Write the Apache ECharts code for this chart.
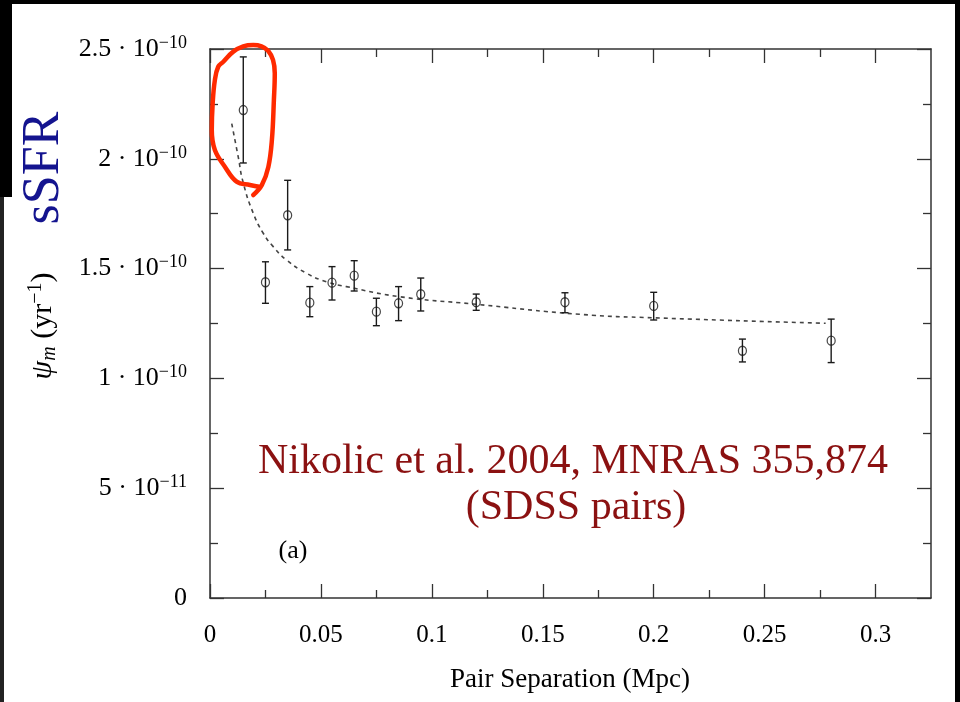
<!DOCTYPE html>
<html><head><meta charset="utf-8">
<script src="https://cdn.jsdelivr.net/npm/echarts@6/dist/echarts.min.js"></script>
<style>html,body{margin:0;padding:0;background:#fff}#c{width:960px;height:702px}</style>
</head><body><div id="c"></div>
<script>
// Pair separation (Mpc) of each bin
const sepX = [0.015, 0.025, 0.035, 0.045, 0.055, 0.065, 0.075, 0.085, 0.095, 0.12, 0.16, 0.20, 0.24, 0.28];
// Mean specific star formation rate psi_m (yr^-1)
const ssfr = [2.222e-10, 1.438e-10, 1.743e-10, 1.345e-10, 1.436e-10, 1.468e-10, 1.304e-10, 1.342e-10, 1.383e-10, 1.347e-10, 1.347e-10, 1.330e-10, 1.126e-10, 1.172e-10];
const errHigh = [2.464e-10, 1.531e-10, 1.902e-10, 1.418e-10, 1.509e-10, 1.536e-10, 1.365e-10, 1.418e-10, 1.457e-10, 1.384e-10, 1.390e-10, 1.392e-10, 1.179e-10, 1.270e-10];
const errLow  = [1.981e-10, 1.342e-10, 1.585e-10, 1.281e-10, 1.357e-10, 1.398e-10, 1.240e-10, 1.263e-10, 1.307e-10, 1.310e-10, 1.299e-10, 1.266e-10, 1.075e-10, 1.072e-10];
// Dashed fit curve
const fitX = [0.0098, 0.0127, 0.0150, 0.0195, 0.0240, 0.0285, 0.0345, 0.0435, 0.0525, 0.0615, 0.0855, 0.1185, 0.1665, 0.2000, 0.2775];
const fitY = [2.160e-10, 2.010e-10, 1.890e-10, 1.752e-10, 1.661e-10, 1.600e-10, 1.539e-10, 1.479e-10, 1.440e-10, 1.418e-10, 1.372e-10, 1.339e-10, 1.292e-10, 1.276e-10, 1.251e-10];
// Hand-drawn red loop around the first point (data coordinates)
const loopX = [0.0195, 0.0234, 0.0263, 0.0279, 0.0288, 0.0292, 0.0284, 0.0262, 0.0232, 0.0195, 0.0150, 0.0105, 0.0060, 0.0037, 0.0022, 0.0012, 0.0008, 0.0022, 0.0067, 0.0120, 0.0180, 0.0228];
const loopY = [1.835e-10, 1.881e-10, 1.963e-10, 2.086e-10, 2.268e-10, 2.390e-10, 2.450e-10, 2.492e-10, 2.512e-10, 2.518e-10, 2.512e-10, 2.488e-10, 2.442e-10, 2.419e-10, 2.359e-10, 2.253e-10, 2.131e-10, 2.040e-10, 1.964e-10, 1.896e-10, 1.881e-10, 1.872e-10];
// Axis ticks and labels
const xTickValues = [0, 0.05, 0.1, 0.15, 0.2, 0.25, 0.3];
const xTickLabels = ['0', '0.05', '0.1', '0.15', '0.2', '0.25', '0.3'];
const xMinorTicks = [0.025, 0.075, 0.125, 0.175, 0.225, 0.275];
const yTickValues = [0, 5e-11, 1e-10, 1.5e-10, 2e-10, 2.5e-10];
const yTickMantissa = ['0', '5', '1', '1.5', '2', '2.5'];
const yTickExponent = ['', '−11', '−10', '−10', '−10', '−10'];
const yMinorTicks = [2.5e-11, 7.5e-11, 1.25e-10, 1.75e-10, 2.25e-10];

const SERIF = '"Liberation Serif", "Times New Roman", serif';
const AX = '#333';
const TXT = '#000';

function findIdx(arr, v, tol) { return arr.findIndex(a => Math.abs(a - v) < tol); }

const chart = echarts.init(document.getElementById('c'));
function xAx(pos, minor, showLine) {
  return {
    type: 'value', position: pos, min: 0, max: 0.325,
    axisLine: { show: showLine, onZero: false, lineStyle: { color: AX, width: 1.5 } },
    axisTick: { show: true, inside: true, length: minor ? 8 : 14, customValues: minor ? xMinorTicks : xTickValues, lineStyle: { color: AX, width: 1.3 } },
    axisLabel: (pos === 'bottom' && !minor) ? {
      show: true, customValues: xTickValues, margin: 25, color: TXT, fontFamily: SERIF, fontSize: 25,
      formatter: v => { const i = findIdx(xTickValues, v, 1e-9); return i >= 0 ? xTickLabels[i] : ''; }
    } : { show: false },
    splitLine: { show: false }
  };
}
function yAx(pos, minor, showLine) {
  return {
    type: 'value', position: pos, min: 0, max: 2.5e-10,
    axisLine: { show: showLine, onZero: false, lineStyle: { color: AX, width: 1.5 } },
    axisTick: { show: true, inside: true, length: minor ? 8 : 14, customValues: minor ? yMinorTicks : yTickValues, lineStyle: { color: AX, width: 1.3 } },
    axisLabel: (pos === 'left' && !minor) ? {
      show: true, customValues: yTickValues, margin: 23, color: TXT, fontFamily: SERIF,
      formatter: v => {
        const i = findIdx(yTickValues, v, 1e-14);
        if (i < 0) return '';
        return yTickExponent[i] ? '{m|' + yTickMantissa[i] + ' · 10}{sup|' + yTickExponent[i] + '}' : '{m|' + yTickMantissa[i] + '}';
      },
      rich: {
        m: { fontSize: 26, fontFamily: SERIF, color: TXT, lineHeight: 30 },
        sup: { fontSize: 18, fontFamily: SERIF, color: TXT, lineHeight: 18, verticalAlign: 'top' }
      }
    } : { show: false },
    splitLine: { show: false }
  };
}

const option = {
  backgroundColor: '#fff',
  animation: false,
  grid: { left: 210, top: 49, right: 29, bottom: 104, containLabel: false },
  xAxis: [xAx('bottom', false, true), xAx('bottom', true, false), xAx('top', false, true), xAx('top', true, false)],
  yAxis: [yAx('left', false, true), yAx('left', true, false), yAx('right', false, true), yAx('right', true, false)],
  series: [
    {
      name: 'fit', type: 'line', smooth: true, symbol: 'none',
      data: fitX.map((x, i) => [x, fitY[i]]),
      lineStyle: { color: '#444', width: 1.6, type: [4, 4] }, z: 2
    },
    {
      name: 'errors', type: 'custom',
      data: sepX.map((x, i) => [x, errLow[i], errHigh[i]]),
      encode: { x: 0, y: [1, 2] },
      renderItem: (params, api) => {
        const x = api.value(0), lo = api.value(1), hi = api.value(2);
        const a = api.coord([x, hi]), b = api.coord([x, lo]);
        const c = 3.5, st = { stroke: '#1a1a1a', lineWidth: 1.4 };
        return { type: 'group', children: [
          { type: 'line', shape: { x1: a[0], y1: a[1], x2: b[0], y2: b[1] }, style: st },
          { type: 'line', shape: { x1: a[0] - c, y1: a[1], x2: a[0] + c, y2: a[1] }, style: st },
          { type: 'line', shape: { x1: b[0] - c, y1: b[1], x2: b[0] + c, y2: b[1] }, style: st }
        ] };
      }, z: 3
    },
    {
      name: 'sSFR', type: 'scatter', symbol: 'circle', symbolSize: [8, 9],
      data: sepX.map((x, i) => [x, ssfr[i]]),
      itemStyle: { color: 'rgba(0,0,0,0)', borderColor: '#1a1a1a', borderWidth: 1.3 }, z: 4
    },
    {
      name: 'highlight', type: 'line', smooth: 0.4, symbol: 'none', clip: false,
      data: loopX.map((x, i) => [x, loopY[i]]),
      lineStyle: { color: '#ff2a00', width: 4.5, cap: 'round', join: 'round' }, z: 5
    }
  ],
  graphic: [
    { type: 'rect', shape: { x: 0, y: 0, width: 960, height: 4 }, style: { fill: '#000' } },
    { type: 'rect', shape: { x: 0, y: 0, width: 12, height: 197 }, style: { fill: '#000' } },
    { type: 'rect', shape: { x: 0, y: 197, width: 4, height: 505 }, style: { fill: '#222' } },
    { type: 'rect', shape: { x: 955, y: 0, width: 5, height: 702 }, style: { fill: '#000' } },
    { type: 'text', x: 44, y: 168, rotation: Math.PI / 2,
      style: { text: 'sSFR', fill: '#14148f', font: '52px ' + SERIF, align: 'center', verticalAlign: 'middle' } },
    { type: 'text', x: 43, y: 326, rotation: Math.PI / 2,
      style: { text: '{it|ψ}{sub|m} (yr{sup|−1})', fill: TXT, align: 'center', verticalAlign: 'middle',
        font: '30px ' + SERIF,
        rich: {
          it: { fontSize: 30, fontFamily: SERIF, fontStyle: 'italic', lineHeight: 34, verticalAlign: 'middle' },
          sub: { fontSize: 20, fontFamily: SERIF, fontStyle: 'italic', lineHeight: 20, verticalAlign: 'bottom' },
          sup: { fontSize: 20, fontFamily: SERIF, lineHeight: 20, verticalAlign: 'top' }
        } } },
    { type: 'text', x: 570, y: 680,
      style: { text: 'Pair Separation (Mpc)', fill: TXT, font: '27px ' + SERIF, align: 'center', verticalAlign: 'middle' } },
    { type: 'text', x: 573, y: 462,
      style: { text: 'Nikolic et al. 2004, MNRAS 355,874', fill: '#8b1111', font: '42px ' + SERIF, align: 'center', verticalAlign: 'middle' } },
    { type: 'text', x: 576, y: 508,
      style: { text: '(SDSS pairs)', fill: '#8b1111', font: '42px ' + SERIF, align: 'center', verticalAlign: 'middle' } },
    { type: 'text', x: 293, y: 551,
      style: { text: '(a)', fill: TXT, font: '26px ' + SERIF, align: 'center', verticalAlign: 'middle' } }
  ]
};
chart.setOption(option);
</script>
</body></html>
